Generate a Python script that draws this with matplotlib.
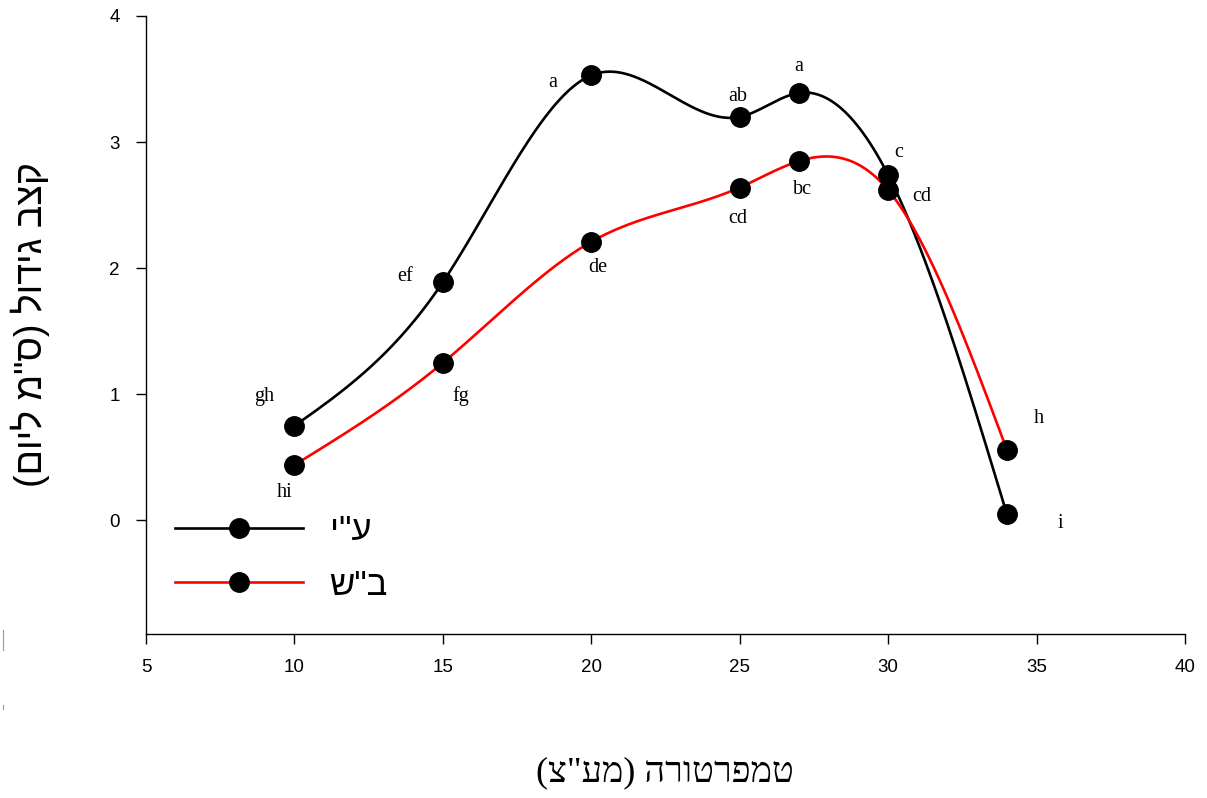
import numpy as np
import matplotlib
matplotlib.use("Agg")
import matplotlib.pyplot as plt
from matplotlib.lines import Line2D

# ---------------- data ----------------
temps = [10, 15, 20, 25, 27, 30, 34]
ein_yahav = [0.75, 1.89, 3.53, 3.20, 3.39, 2.74, 0.05]
beer_sheva = [0.44, 1.25, 2.21, 2.64, 2.85, 2.62, 0.56]
letters_ey = ["gh", "ef", "a", "ab", "a", "c", "i"]
letters_bs = ["hi", "fg", "de", "cd", "bc", "cd", "h"]
series_names = ['ע"י', 'ב"ש']
x_label = 'טמפרטורה (מע"צ)'
y_label = 'קצב גידול (ס"מ ליום)'
x_ticks = [5, 10, 15, 20, 25, 30, 35, 40]
y_ticks = [0, 1, 2, 3, 4]

# label offsets in pixels (layout only)
offs_ey = [(-30, 29), (-38, 6), (-39, -7), (-2, 20), (0, 26), (11, 22), (53, -9)]
offs_bs = [(-10, -28), (18, -33), (7, -26), (-2, -31), (3, -28), (34, -6), (32, 31)]


def vis(s):
    """Hebrew logical -> visual order for LTR renderer."""
    return s[::-1].translate(str.maketrans("()", ")("))


def spaced(s):
    """Slight letter spacing like the original annotations."""
    return "\u2009".join(s)


def natural_spline(x, y, n=500):
    x = np.asarray(x, float)
    y = np.asarray(y, float)
    m = len(x)
    h = np.diff(x)
    A = np.zeros((m, m))
    b = np.zeros(m)
    A[0, 0] = 1
    A[-1, -1] = 1
    for i in range(1, m - 1):
        A[i, i - 1] = h[i - 1]
        A[i, i] = 2 * (h[i - 1] + h[i])
        A[i, i + 1] = h[i]
        b[i] = 6 * ((y[i + 1] - y[i]) / h[i] - (y[i] - y[i - 1]) / h[i - 1])
    M = np.linalg.solve(A, b)
    xs = np.linspace(x[0], x[-1], n)
    ys = np.empty_like(xs)
    for k, xv in enumerate(xs):
        i = min(np.searchsorted(x, xv, side="right") - 1, m - 2)
        i = max(i, 0)
        t1 = x[i + 1] - xv
        t0 = xv - x[i]
        hi = h[i]
        ys[k] = (M[i] * t1 ** 3 / (6 * hi) + M[i + 1] * t0 ** 3 / (6 * hi)
                 + (y[i] / hi - M[i] * hi / 6) * t1
                 + (y[i + 1] / hi - M[i + 1] * hi / 6) * t0)
    return xs, ys


fig = plt.figure(figsize=(12.07, 7.98), dpi=100)
ax = fig.add_axes([146 / 1207, 1 - 634 / 798, (1185 - 146) / 1207, (634 - 16) / 798])

sx, sy = natural_spline(temps, ein_yahav)
ax.plot(sx, sy, color="black", lw=1.9, zorder=2)
sx, sy = natural_spline(temps, beer_sheva)
ax.plot(sx, sy, color="red", lw=1.9, zorder=2.1)
ax.plot(temps, ein_yahav, "o", color="black", ms=14, zorder=3)
ax.plot(temps, beer_sheva, "o", color="black", ms=14, zorder=3)

serif = ["Liberation Serif", "DejaVu Serif"]
for xv, yv, lab, off in zip(temps, ein_yahav, letters_ey, offs_ey):
    ax.annotate(lab, (xv, yv), xytext=off, textcoords="offset pixels",
                ha="center", va="center", fontsize=14.5, family=serif)
for xv, yv, lab, off in zip(temps, beer_sheva, letters_bs, offs_bs):
    ax.annotate(lab, (xv, yv), xytext=off, textcoords="offset pixels",
                ha="center", va="center", fontsize=14.5, family=serif)

ax.set_xlim(5, 40)
ax.set_ylim(-0.9, 4)
ax.set_xticks(x_ticks)
ax.set_yticks(y_ticks)
ax.spines["top"].set_visible(False)
ax.spines["right"].set_visible(False)
for sp in ("left", "bottom"):
    ax.spines[sp].set_linewidth(1.0)
ax.tick_params(direction="out", length=7, width=1.0, labelsize=13.5)
ax.tick_params(axis="x", pad=11)
ax.tick_params(axis="y", pad=12)
for t in ax.get_xticklabels() + ax.get_yticklabels():
    t.set_family(["Liberation Sans", "DejaVu Sans"])

sans = ["Liberation Sans", "DejaVu Sans"]
fig.text(30 / 1207, 1 - 325 / 798, vis(y_label), rotation=90, ha="center", va="center",
         fontsize=27, family=sans)
fig.text(665 / 1207, 1 - 773 / 798, vis(x_label), ha="center", va="center",
         fontsize=26, family=serif + ["DejaVu Sans"])

handles = [Line2D([], [], color=c, lw=1.9, marker="o", ms=14, mfc="black", mec="black")
           for c in ("black", "red")]
leg = ax.legend(handles, [vis(s) for s in series_names], loc="upper left",
                bbox_to_anchor=((175 - 146) / 1039, (634 - 514) / 618),
                frameon=False, handlelength=3.7, labelspacing=0.62,
                handletextpad=0.75, borderaxespad=0, borderpad=0,
                prop={"family": sans, "size": 25})

# small gray artifacts at left edge
fig.add_artist(Line2D([3 / 1207, 3 / 1207], [1 - 630 / 798, 1 - 650 / 798], color="#999999", lw=0.8))
fig.add_artist(Line2D([3 / 1207, 3 / 1207], [1 - 705 / 798, 1 - 709 / 798], color="#999999", lw=0.8))

fig.savefig("out.png", dpi=100)
